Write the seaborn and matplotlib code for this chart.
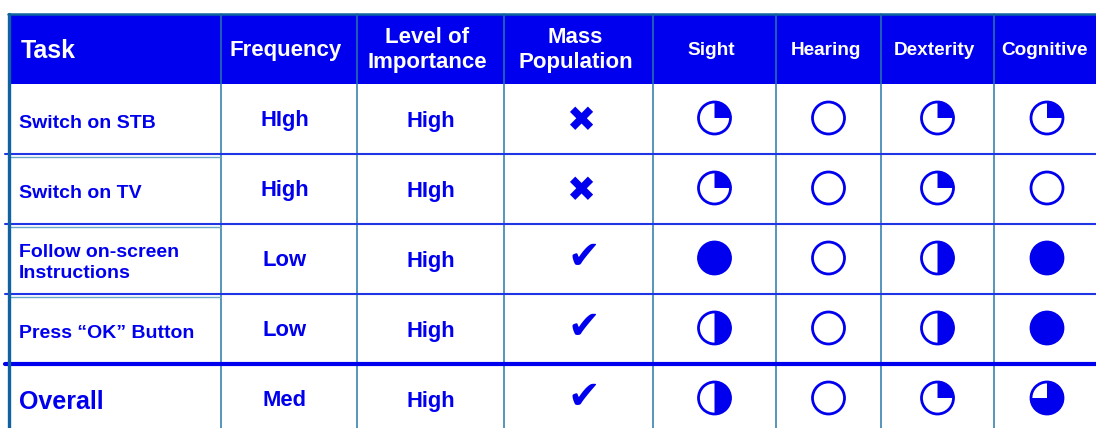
import matplotlib
matplotlib.use("Agg")
import matplotlib.pyplot as plt
from matplotlib.patches import Circle, Rectangle, Wedge
import seaborn as sns

# -------------------------------------------------------------------
# data
# -------------------------------------------------------------------
headers = ["Task", "Frequency", "Level of\nImportance", "Mass\nPopulation",
           "Sight", "Hearing", "Dexterity", "Cognitive"]
tasks = ["Switch on STB", "Switch on TV", "Follow on-screen\nInstructions",
         "Press \u201cOK\u201d Button", "Overall"]
frequency = ["HIgh", "High", "Low", "Low", "Med"]
importance = ["High", "HIgh", "High", "High", "High"]
mass_population = [False, False, True, True, True]
sight = [0.25, 0.25, 1.0, 0.5, 0.5]
hearing = [0.0, 0.0, 0.0, 0.0, 0.0]
dexterity = [0.25, 0.25, 0.5, 0.5, 0.25]
cognitive = [0.25, 0.0, 1.0, 1.0, 0.75]

# -------------------------------------------------------------------
# layout (pixels)
# -------------------------------------------------------------------
W, H = 1096, 428
col_edges = [8, 221, 357, 504, 653, 776, 881, 994, 1100]
top = 14
row_h = 70
n_rows = len(tasks)
row_edges = [top + row_h * i for i in range(n_rows + 2)]

BLUE = "#0000EE"
LINE_BLUE = "#1f35e6"
TEAL = "#2a78a8"
DARK_TEAL = "#0f62a0"

sns.set_theme(style="white")
plt.rcParams["font.family"] = ["Liberation Sans", "DejaVu Sans"]

fig = plt.figure(figsize=(W / 100, H / 100), dpi=100)
ax = fig.add_axes([0, 0, 1, 1])
ax.set_xlim(0, W)
ax.set_ylim(H, 0)
ax.axis("off")


def col_center(i):
    return (col_edges[i] + col_edges[i + 1]) / 2


def row_center(i):
    return (row_edges[i] + row_edges[i + 1]) / 2


def harvey(x, y, frac, r=16):
    if frac > 0:
        ax.add_patch(Wedge((x, y), r + 0.8, -90, -90 + 360 * frac,
                           color=BLUE, lw=0, zorder=3))
    ax.add_patch(Circle((x, y), r, fill=False, ec=BLUE, lw=2.0, zorder=4))


# header band
ax.add_patch(Rectangle((col_edges[0], row_edges[0]), W - col_edges[0],
                       row_edges[1] - row_edges[0], color=BLUE, lw=0, zorder=1))

header_sizes = [18, 16, 16, 16, 13.7, 13.7, 13.7, 13.7]
for j, (lab, fs) in enumerate(zip(headers, header_sizes)):
    if j == 0:
        ax.text(col_edges[0] + 13, row_center(0) + 2, lab, color="white",
                fontsize=fs, fontweight="bold", ha="left", va="center", zorder=5)
    else:
        ax.text(col_center(j) - 3, row_center(0) + 1, lab, color="white",
                fontsize=fs, fontweight="bold", ha="center", va="center",
                linespacing=1.2, zorder=5)

# body
balls = [sight, hearing, dexterity, cognitive]
for i in range(n_rows):
    yc = row_center(i + 1)
    last = i == n_rows - 1
    ax.text(col_edges[0] + 11, yc + (4 if not last else 3), tasks[i], color=BLUE,
            fontsize=18 if last else 14, fontweight="bold",
            ha="left", va="center", linespacing=1.25, zorder=5)
    ax.text(col_center(1) - 4, yc + 1, frequency[i], color=BLUE, fontsize=15.8,
            fontweight="bold", ha="center", va="center", zorder=5)
    ax.text(col_center(2), yc + 2, importance[i], color=BLUE, fontsize=15.8,
            fontweight="bold", ha="center", va="center", zorder=5)
    if mass_population[i]:
        ax.text(col_center(3) + 5, yc - 2, "\u2714", color=BLUE, fontsize=28,
                family=["DejaVu Sans"], ha="center", va="center", zorder=5)
    else:
        ax.text(col_center(3) + 2, yc + 2, "\u2716", color=BLUE, fontsize=25,
                family=["DejaVu Sans"], ha="center", va="center", zorder=5)
    for k, vals in enumerate(balls):
        harvey(col_center(4 + k), yc - 1, vals[i])

# grid lines
for x in col_edges[1:-1]:
    ax.plot([x, x], [row_edges[0], H], color=TEAL, lw=1.1, zorder=2)
ax.plot([col_edges[0] + 1, col_edges[0] + 1], [row_edges[0], H],
        color=DARK_TEAL, lw=2.4, zorder=6)
ax.plot([col_edges[0], W], [row_edges[0], row_edges[0]], color=DARK_TEAL,
        lw=1.8, zorder=6)
for y in row_edges[2:n_rows]:
    ax.plot([5, W], [y, y], color=LINE_BLUE, lw=1.5, zorder=2)
    ax.plot([col_edges[0], col_edges[1]], [y + 3, y + 3], color="#6aa6c8",
            lw=1.0, zorder=2)
ax.plot([5, W], [row_edges[n_rows], row_edges[n_rows]], color=BLUE, lw=3.0,
        zorder=2)

fig.savefig("out.png", dpi=100)
